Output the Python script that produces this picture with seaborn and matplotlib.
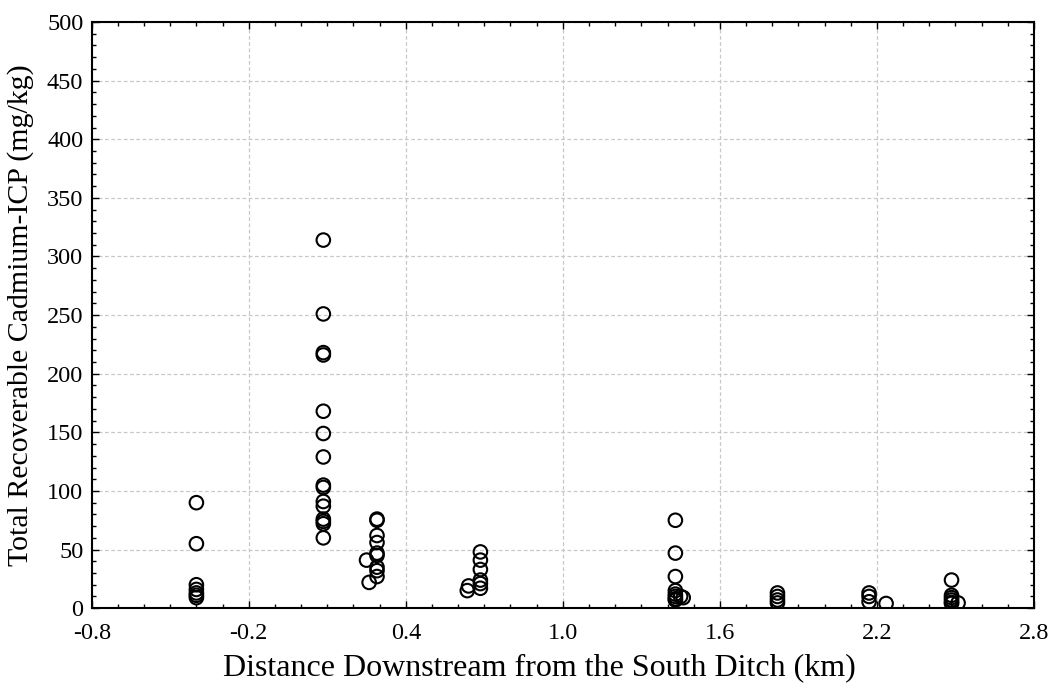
import numpy as np
import pandas as pd
import seaborn as sns
import matplotlib.pyplot as plt
from matplotlib.ticker import MultipleLocator

sns.set_style('ticks')
plt.rcParams['font.family'] = ['Liberation Serif', 'DejaVu Serif']
plt.rcParams['text.color'] = 'black'
plt.rcParams['axes.labelcolor'] = 'black'

# sample sites (km downstream) and cadmium readings (mg/kg)
site_a_x = [-0.4] * 7
site_a_y = [90, 55, 20, 16, 13, 11, 9]

site_b_x = [0.085] * 15
site_b_y = [314, 251, 218, 216, 168, 149, 129, 105, 103, 91, 87, 76, 74, 72, 60]

site_c_x = [0.29] * 9 + [0.25, 0.26]
site_c_y = [76, 75, 62, 56, 47, 45, 35, 32, 27, 41, 22]

site_d_x = [0.685] * 6 + [0.64, 0.635]
site_d_y = [48, 41, 33, 24, 21, 17, 19, 15]

site_e_x = [1.43] * 8 + [1.45, 1.46]
site_e_y = [75, 47, 27, 15, 12, 10, 8, 7, 10, 9]

site_f_x = [1.82] * 4
site_f_y = [13, 10, 7, 4.5]

site_g_x = [2.17] * 3 + [2.235]
site_g_y = [13, 10, 5.5, 4]

site_h_x = [2.485] * 6 + [2.51]
site_h_y = [24, 11, 9, 7, 5, 4, 4.5]

df = pd.DataFrame({
    'dist': site_a_x + site_b_x + site_c_x + site_d_x + site_e_x + site_f_x + site_g_x + site_h_x,
    'cd': site_a_y + site_b_y + site_c_y + site_d_y + site_e_y + site_f_y + site_g_y + site_h_y,
})

fig, ax = plt.subplots(figsize=(10.54, 6.88), dpi=100)
fig.subplots_adjust(left=0.087, right=0.981, top=0.968, bottom=0.116)

sns.scatterplot(data=df, x='dist', y='cd', ax=ax, marker='o', s=95,
                facecolors='none', edgecolor='black', linewidth=1.5, zorder=3)

ax.set_xlim(-0.8, 2.8)
ax.set_ylim(0, 500)
ax.xaxis.set_minor_locator(MultipleLocator(0.1))
ax.yaxis.set_major_locator(MultipleLocator(50))
ax.yaxis.set_minor_locator(MultipleLocator(10))
ax.set_xticks(np.arange(-0.8, 2.81, 0.6))
ax.set_xticklabels(['-0.8', '-0.2', '0.4', '1.0', '1.6', '2.2', '2.8'])

ax.grid(True, which='major', linestyle=(0, (3, 2)), color='#c8c8c8', linewidth=0.9)
ax.tick_params(which='both', direction='in', top=True, right=True, labelsize=17.5,
               color='black', labelcolor='black')
ax.tick_params(axis='x', which='major', pad=11)
ax.tick_params(axis='y', which='major', pad=6)
ax.tick_params(which='major', length=5, width=1)
ax.tick_params(which='minor', length=3, width=1)
for sp in ax.spines.values():
    sp.set_linewidth(1.5)
    sp.set_color('black')

ax.set_xlabel('Distance Downstream from the South Ditch (km)', fontsize=23, labelpad=6)
ax.xaxis.label.set_x(0.475)
ax.set_ylabel('Total Recoverable Cadmium-ICP (mg/kg)', fontsize=21.5, labelpad=9)

plt.savefig('out.png', dpi=100)
